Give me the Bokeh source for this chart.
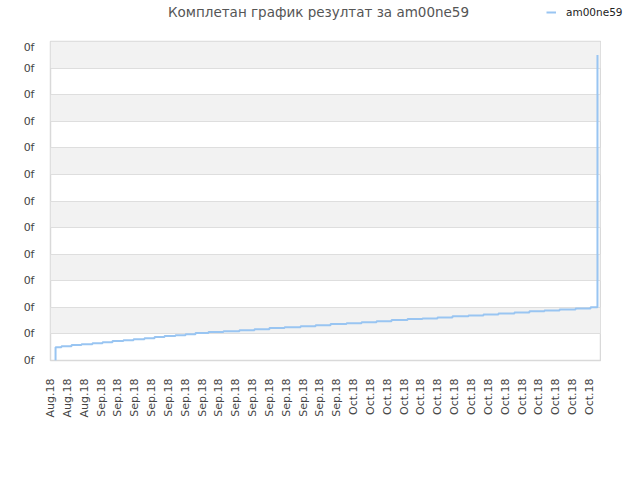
from bokeh.plotting import figure
from bokeh.models import Range1d, FixedTicker, Legend, LegendItem, Label
from bokeh.layouts import column
from bokeh.embed import file_html
from bokeh.resources import INLINE

title_text = "Комплетан график резултат за am00ne59"
series_name = "am00ne59"

# x tick labels (one per tick position 0..32)
x_tick_labels = ["Aug.18"] * 3 + ["Sep.18"] * 15 + ["Oct.18"] * 15
# y tick labels (as shown on the chart)
y_tick_values = list(range(0, 13))
y_tick_labels = ["0f"] * 13

# step series: x in tick-index units, y in grid units
xs = [0.30, 0.30, 0.65, 1.25, 1.84, 2.49, 3.09, 3.68, 4.33, 4.93, 5.58, 6.18,
      6.77, 7.42, 8.02, 8.61, 9.38, 10.27, 11.22, 12.11, 13.00, 13.90, 14.85,
      15.74, 16.63, 17.58, 18.47, 19.36, 20.25, 21.20, 22.09, 22.98, 23.87,
      24.82, 25.71, 26.60, 27.55, 28.44, 29.33, 30.23, 31.18, 32.07, 32.48]
ys = [0.00, 0.50, 0.54, 0.58, 0.61, 0.65, 0.69, 0.73, 0.76, 0.80, 0.84, 0.88,
      0.92, 0.95, 0.99, 1.03, 1.07, 1.10, 1.14, 1.18, 1.22, 1.25, 1.29,
      1.33, 1.37, 1.40, 1.44, 1.48, 1.52, 1.56, 1.58, 1.62, 1.66,
      1.69, 1.73, 1.77, 1.81, 1.85, 1.88, 1.92, 1.96, 2.00, 11.49]

line_color = "#99c5f2"

# ---- header strip: title and legend ----
h = figure(width=624, height=40, output_backend="svg", toolbar_location=None,
           x_range=Range1d(0, 1), y_range=Range1d(-3, -2),
           x_axis_type=None, y_axis_type=None,
           min_border_left=0, min_border_right=0, min_border_top=0,
           min_border_bottom=0, title=None)
h.outline_line_color = None
h.xgrid.visible = False
h.ygrid.visible = False

h.add_layout(Label(x=268, y=29, x_units="screen", y_units="screen",
                   text=title_text, text_align="center", text_baseline="middle",
                   text_font="DejaVu Sans", text_font_size="13.5px",
                   text_color="#555555"))

# legend proxy: same series, outside this strip's visible range
legend_sample = h.step(xs, ys, mode="after", line_color=line_color, line_width=2)
legend = Legend(items=[LegendItem(label=series_name, renderers=[legend_sample])],
                location=(496, 22), orientation="horizontal",
                background_fill_alpha=0, border_line_color=None,
                padding=0, margin=0, glyph_width=10, glyph_height=12,
                label_height=12, label_width=20,
                label_text_font="DejaVu Sans", label_text_font_size="10.5px",
                label_text_color="#222222", label_standoff=10)
h.add_layout(legend, "center")

# ---- main chart ----
p = figure(width=601, height=424, output_backend="svg", toolbar_location=None,
           x_range=Range1d(0, 32.66), y_range=Range1d(0, 12),
           min_border_left=50, min_border_right=1, min_border_top=1,
           min_border_bottom=104, title=None)

p.outline_line_color = "#d9d9d9"
p.outline_line_width = 1.5

p.step(xs, ys, mode="after", line_color=line_color, line_width=2)

# grid
p.xgrid.grid_line_color = None
p.ygrid.grid_line_color = "#dedede"
p.ygrid.band_fill_color = "#f2f2f2"
p.ygrid.band_fill_alpha = 1.0

# y axis
p.yaxis.ticker = FixedTicker(ticks=y_tick_values)
p.yaxis.major_label_overrides = {v: lab for v, lab in zip(y_tick_values, y_tick_labels)}
p.yaxis.axis_line_color = None
p.yaxis.major_tick_line_color = None
p.yaxis.minor_tick_line_color = None
p.yaxis.major_label_text_font = "DejaVu Sans"
p.yaxis.major_label_text_font_size = "11px"
p.yaxis.major_label_text_color = "#444444"
p.yaxis.major_label_standoff = 10

# x axis
x_ticks = list(range(len(x_tick_labels)))
p.xaxis.ticker = FixedTicker(ticks=x_ticks)
p.xaxis.major_label_overrides = {i: lab for i, lab in zip(x_ticks, x_tick_labels)}
p.xaxis.major_label_orientation = 3.14159265 / 2
p.xaxis.axis_line_color = None
p.xaxis.major_tick_line_color = None
p.xaxis.minor_tick_line_color = None
p.xaxis.major_label_text_font = "DejaVu Sans"
p.xaxis.major_label_text_font_size = "11px"
p.xaxis.major_label_text_color = "#444444"
p.xaxis.major_label_standoff = 12

page = column(h, p, spacing=0)
open("out.html", "w").write(file_html(page, INLINE))
